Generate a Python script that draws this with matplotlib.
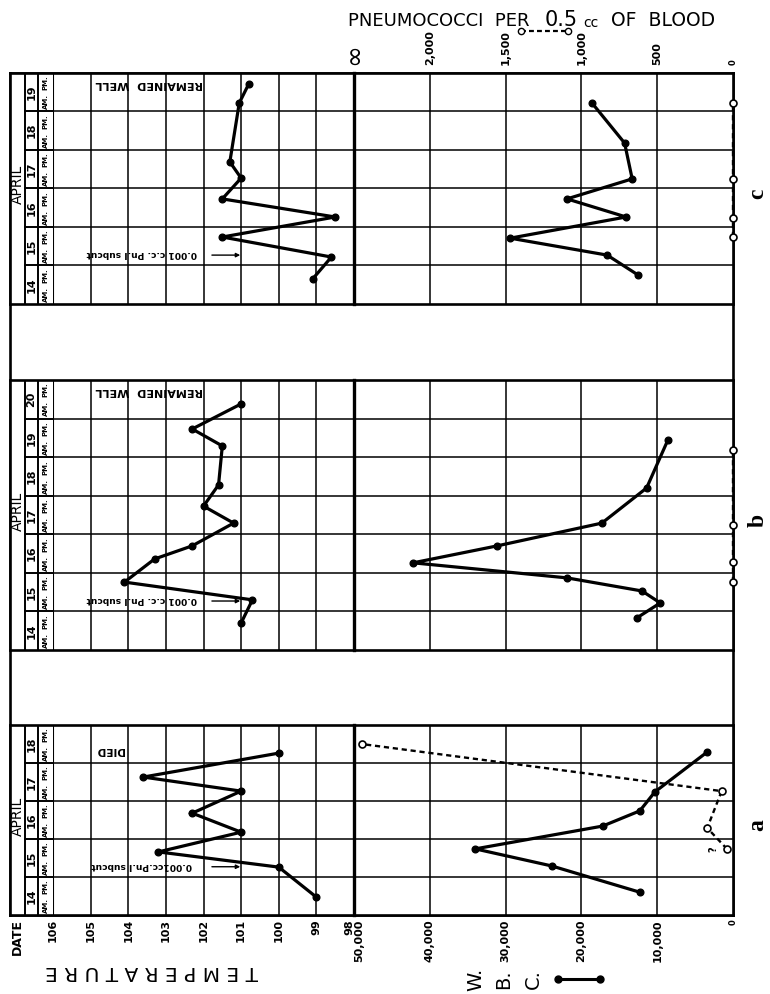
import matplotlib
matplotlib.use('Agg')
import matplotlib.pyplot as plt
from matplotlib import font_manager as fm
from matplotlib.lines import Line2D

W, H = 770, 994

# ---------------- data ----------------
temp_ticks = [106, 105, 104, 103, 102, 101, 100, 99, 98]
temp_labels = ['106', '105', '104', '103', '102', '101', '100', '99', '98']
wbc_ticks = [50000, 40000, 30000, 20000, 10000, 0]
wbc_labels = ['50,000', '40,000', '30,000', '20,000', '10,000', '0']
pn_ticks = [2500, 2000, 1500, 1000, 500, 0]
pn_labels = ['\u221e', '2,000', '1,500', '1,000', '500', '0']

# panel a (died)
a_days = [14, 15, 16, 17, 18]
a_temp_t = [14.47, 15.26, 15.66, 16.18, 16.68, 17.26, 17.63, 18.26]
a_temp = [99.0, 100.0, 103.2, 101.0, 102.3, 101.0, 103.6, 100.0]
a_wbc_t = [14.60, 15.29, 15.74, 16.34, 16.74, 17.24, 18.29]
a_wbc = [12300, 23900, 34000, 17200, 12300, 10300, 3400]
a_pn_t = [15.74, 16.29, 17.26, 18.50]
a_pn = [40, 170, 75, 2450]

# panel b (remained well)
b_days = [14, 15, 16, 17, 18, 19, 20]
b_temp_t = [14.70, 15.30, 15.76, 16.36, 16.70, 17.29, 17.73, 18.28, 19.29, 19.73, 20.38]
b_temp = [101.0, 100.7, 104.1, 103.3, 102.3, 101.2, 102.0, 101.6, 101.5, 102.3, 101.0]
b_wbc_t = [14.83, 15.22, 15.53, 15.87, 16.26, 16.70, 17.29, 18.20, 19.44]
b_wbc = [12700, 9600, 12000, 21900, 42200, 31100, 17300, 11400, 8600]
b_pn_t = [15.76, 16.28, 17.24, 19.19]
b_pn = [0, 0, 0, 0]

# panel c (remained well)
c_days = [14, 15, 16, 17, 18, 19]
c_temp_t = [14.65, 15.22, 15.74, 16.26, 16.73, 17.27, 17.69, 19.22, 19.71]
c_temp = [99.1, 98.6, 101.5, 98.5, 101.5, 101.0, 101.3, 101.05, 100.8]
c_wbc_t = [14.75, 15.27, 15.71, 16.26, 16.73, 17.25, 18.18, 19.22]
c_wbc = [12500, 16600, 29400, 14100, 21900, 13300, 14300, 18600]
c_pn_t = [15.74, 16.23, 17.25, 19.22]
c_pn = [0, 0, 0, 0]

inject_text = ['0.001cc.Pn.I subcut', '0.001 c.c. Pn.I subcut', '0.001 c.c. Pn.I subcut']
end_text = ['DIED', 'REMAINED  WELL', 'REMAINED  WELL']
panel_names = ['a', 'b', 'c']


def has_font(name):
    try:
        fm.findfont(fm.FontProperties(family=name), fallback_to_default=False)
        return True
    except Exception:
        return False


SERIF = 'Liberation Serif' if has_font('Liberation Serif') else 'DejaVu Serif'
SANS = 'DejaVu Sans'

fig = plt.figure(figsize=(W / 100, H / 100), dpi=100)
fig.patch.set_facecolor('white')


def rect(x0, y0, x1, y1):
    return [x0 / W, 1 - y1 / H, (x1 - x0) / W, (y1 - y0) / H]


XL, XD1, XD2, XT, XM, XR = 10, 25, 38, 53, 354, 733
YTOP, YBOT = 73, 915
FRAME_LW = 1.9
GRID_LW = 1.1
DATA_LW = 2.3

# outer frame
bg = fig.add_axes(rect(XL, YTOP, XR, YBOT))
bg.set_xticks([]); bg.set_yticks([])
for s in bg.spines.values():
    s.set_linewidth(FRAME_LW)

panels = [
    dict(name='a', days=a_days, yt=725, yb=915, tt=a_temp_t, tv=a_temp, wt=a_wbc_t, wv=a_wbc,
         pt=a_pn_t, pv=a_pn, inj=inject_text[0], end=end_text[0]),
    dict(name='b', days=b_days, yt=380, yb=650, tt=b_temp_t, tv=b_temp, wt=b_wbc_t, wv=b_wbc,
         pt=b_pn_t, pv=b_pn, inj=inject_text[1], end=end_text[1]),
    dict(name='c', days=c_days, yt=73, yb=304, tt=c_temp_t, tv=c_temp, wt=c_wbc_t, wv=c_wbc,
         pt=c_pn_t, pv=c_pn, inj=inject_text[2], end=end_text[2]),
]


def clean(ax):
    for s in ax.spines.values():
        s.set_visible(False)
    ax.tick_params(which='both', length=0, left=False, labelleft=False, right=False,
                   labelright=False, bottom=False, labelbottom=False, top=False,
                   labeltop=False)
    ax.patch.set_alpha(0)


for i, P in enumerate(panels):
    d0 = P['days'][0]
    d1 = P['days'][-1] + 1
    yt, yb = P['yt'], P['yb']

    # panel frame
    fr = fig.add_axes(rect(XL, yt, XR, yb))
    fr.set_xticks([]); fr.set_yticks([])
    for s in fr.spines.values():
        s.set_linewidth(FRAME_LW)

    # date columns
    ad = fig.add_axes(rect(XL, yt, XT, yb))
    clean(ad)
    ad.set_xlim(0, XT - XL)
    ad.set_ylim(d0, d1)
    ad.axvline(XD1 - XL, color='black', lw=1.4)
    ad.axvline(XD2 - XL, color='black', lw=1.4)
    for d in P['days'][1:]:
        ad.axhline(d, xmin=(XD1 - XL) / (XT - XL), xmax=1, color='black', lw=1.4)
    ad.text((XD1 - XL) / 2 + 0.5, (d0 + d1) / 2 + 0.1, 'APRIL', rotation=90, ha='center',
            va='center', fontsize=10, family=SANS)
    for d in P['days']:
        ad.text((XD1 + XD2) / 2 - XL, d + 0.5, str(d), rotation=90, ha='center', va='center',
                fontsize=8, fontweight='bold', family=SANS)
        ad.text((XD2 + XT) / 2 - XL, d + 0.25, 'AM.', rotation=90, ha='center', va='center',
                fontsize=5, fontweight='bold', family=SANS)
        ad.text((XD2 + XT) / 2 - XL, d + 0.74, 'PM.', rotation=90, ha='center', va='center',
                fontsize=5, fontweight='bold', family=SANS)

    # temperature section
    at = fig.add_axes(rect(XT, yt, XM, yb))
    at.set_xlim(temp_ticks[0], temp_ticks[-1])
    at.set_ylim(d0, d1)
    for t in temp_ticks[:-1]:
        at.axvline(t, color='black', lw=GRID_LW if t != temp_ticks[0] else 1.5)
    at.axvline(temp_ticks[-1], color='black', lw=2.4, clip_on=False)
    for d in P['days'][1:]:
        at.axhline(d, color='black', lw=GRID_LW)
    at.plot(P['tv'], P['tt'], color='black', lw=DATA_LW, marker='o', ms=4.8,
            solid_joinstyle='miter', zorder=5)

    # WBC section
    aw = fig.add_axes(rect(XM, yt, XR, yb))
    aw.set_xlim(wbc_ticks[0], wbc_ticks[-1])
    aw.set_ylim(d0, d1)
    for w in wbc_ticks[1:-1]:
        aw.axvline(w, color='black', lw=GRID_LW)
    for d in P['days'][1:]:
        aw.axhline(d, color='black', lw=GRID_LW)
    aw.plot(P['wv'], P['wt'], color='black', lw=DATA_LW, marker='o', ms=4.8,
            solid_joinstyle='miter', zorder=5)

    # pneumococci (twin x scale)
    ap = aw.twiny()
    ap.set_xlim(pn_ticks[0], pn_ticks[-1])
    ap.set_ylim(d0, d1)
    ap.plot(P['pv'], P['pt'], color='black', lw=1.7, ls=(0, (2.2, 1.6)), marker='o', ms=5,
            mfc='white', mec='black', mew=1.2, clip_on=False, zorder=6)
    for ax in (at, aw, ap):
        clean(ax)

    # annotations (upside-down text)
    at.text(103.65, 15.31, P['inj'], rotation=180, ha='center', va='center', fontsize=6.6,
            fontweight='bold', family=SANS)
    at.annotate('', xy=(100.95, 15.27), xytext=(101.85, 15.27),
                arrowprops=dict(arrowstyle='-|>', lw=1.0, color='black', mutation_scale=6))
    if P['name'] == 'a':
        at.text(104.5, d1 - 0.66, P['end'], rotation=180, ha='center', va='center',
                fontsize=7.5, fontweight='bold', family=SANS)
        ap.text(130, 15.72, '?', rotation=90, ha='center', va='center', fontsize=7,
                family=SANS, fontweight='bold')
    else:
        at.text(103.45, d1 - 0.28, P['end'], rotation=180, ha='center', va='center',
                fontsize=8, fontweight='bold', family=SANS)

    # tick labels
    if P['name'] == 'a':
        at.set_xticks(temp_ticks)
        at.set_xticklabels(temp_labels, rotation=90, fontsize=8, fontweight='bold',
                           family=SANS)
        at.tick_params(labelbottom=True, pad=3)
        at.get_xticklabels()[-1].set_horizontalalignment('right')
        aw.set_xticks(wbc_ticks)
        aw.set_xticklabels(wbc_labels, rotation=90, fontsize=8, fontweight='bold',
                           family=SANS)
        aw.tick_params(labelbottom=True, pad=3)
        aw.get_xticklabels()[0].set_horizontalalignment('left')
        aw.get_xticklabels()[-1].set_fontsize(6)
    if P['name'] == 'c':
        ap.set_xticks(pn_ticks)
        ap.set_xticklabels(pn_labels, rotation=90, fontsize=8, fontweight='bold',
                           family=SANS)
        ap.tick_params(labeltop=True, pad=6)
        ap.get_xticklabels()[0].set_fontsize(19)
        ap.get_xticklabels()[0].set_fontweight('normal')
        ap.get_xticklabels()[-1].set_fontsize(6)

    # panel letter
    fig.text(758 / W, 1 - ((yt + yb) / 2 + 5) / H, P['name'], rotation=90, ha='center',
             va='center', fontsize=17, fontweight='bold', family=SERIF)

# ---- outer labels ----
fig.text(17 / W, 1 - 937 / H, 'DATE', rotation=90, ha='center', va='center', fontsize=9,
         fontweight='bold', family=SANS)
fig.text(152 / W, 1 - 972 / H, 'T E M P E R A T U R E', rotation=180, ha='center',
         va='center', fontsize=14.5, family=SANS)
for x, s in zip([476, 504, 533], ['W.', 'B.', 'C.']):
    fig.text(x / W, 1 - 979 / H, s, rotation=90, ha='center', va='center', fontsize=14,
             family=SANS)
fig.add_artist(Line2D([558 / W, 600 / W], [1 - 979 / H, 1 - 979 / H], color='black',
                      lw=2.2, marker='o', ms=5, transform=fig.transFigure))

fig.text(348 / W, 1 - 21 / H, 'PNEUMOCOCCI  PER', ha='left', va='center', fontsize=13,
         family=SANS)
fig.text(545 / W, 1 - 20 / H, '0.5', ha='left', va='center', fontsize=15,
         family=SANS)
fig.text(583 / W, 1 - 23 / H, 'cc', ha='left', va='center', fontsize=10,
         family=SANS)
fig.text(611 / W, 1 - 21 / H, 'OF  BLOOD', ha='left', va='center', fontsize=13.5,
         family=SANS)
fig.add_artist(Line2D([521 / W, 568 / W], [1 - 31 / H, 1 - 31 / H], color='black',
                      lw=1.6, ls=(0, (2.2, 1.4)), marker='o', ms=4.5, mfc='white',
                      transform=fig.transFigure))

fig.savefig('out.png', dpi=100, facecolor='white')
